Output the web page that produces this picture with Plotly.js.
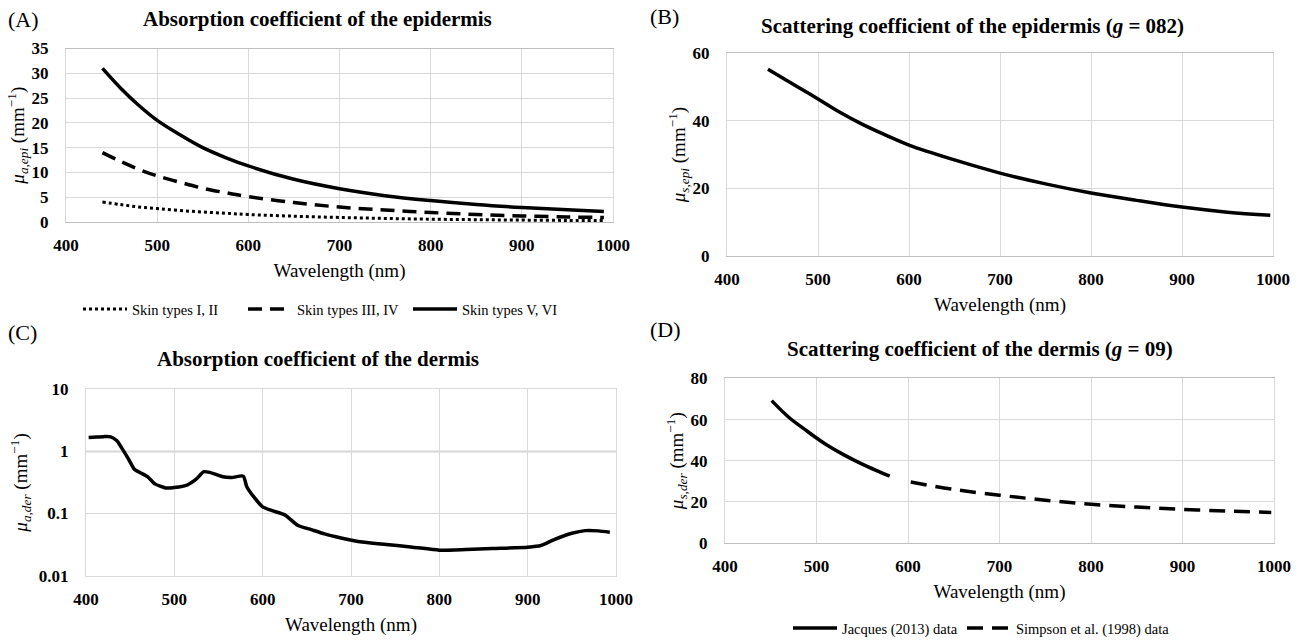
<!DOCTYPE html>
<html>
<head>
<meta charset="utf-8">
<script src="https://cdn.plot.ly/plotly-3.0.1.min.js"></script>
<style>html,body{margin:0;padding:0;background:#fff;}#chart{width:1304px;height:644px;}</style>
</head>
<body>
<div id="chart"></div>
<script>
// ---- Panel A: absorption coefficient of the epidermis ----
const wlA = [440, 460, 480, 500, 525, 550, 575, 600, 650, 700, 750, 800, 850, 900, 950, 990];
const skinI_II = [4.0, 3.5, 3.0, 2.7, 2.3, 2.0, 1.75, 1.5, 1.15, 0.9, 0.7, 0.55, 0.45, 0.37, 0.3, 0.27];
const skinIII_IV = [14.0, 12.2, 10.6, 9.3, 8.0, 6.8, 5.9, 5.1, 3.9, 3.0, 2.4, 1.9, 1.5, 1.2, 1.0, 0.9];
const skinV_VI = [31.0, 27.0, 23.5, 20.5, 17.6, 15.0, 13.0, 11.3, 8.6, 6.7, 5.3, 4.3, 3.5, 2.9, 2.45, 2.1];

// ---- Panel B: scattering coefficient of the epidermis ----
const wlB = [445, 475, 500, 525, 550, 575, 600, 650, 700, 750, 800, 850, 900, 950, 997];
const musEpi = [55.3, 50.5, 46.5, 42.4, 38.8, 35.7, 32.8, 28.4, 24.5, 21.3, 18.6, 16.4, 14.4, 12.9, 12.0];

// ---- Panel C: absorption coefficient of the dermis (log scale) ----
const wlC = [403, 412, 420, 428, 435, 440, 448, 455, 462, 470, 478, 490, 500, 515, 525, 533, 540, 555, 565, 578, 582, 590, 600, 610, 625, 640, 655, 670, 690, 710, 740, 770, 800, 830, 860, 900, 915, 930, 950, 965, 980, 993];
const muaDer = [1.67, 1.70, 1.73, 1.72, 1.48, 1.16, 0.76, 0.51, 0.45, 0.39, 0.30, 0.258, 0.262, 0.29, 0.36, 0.47, 0.46, 0.39, 0.38, 0.40, 0.27, 0.185, 0.128, 0.112, 0.095, 0.064, 0.055, 0.047, 0.040, 0.035, 0.0316, 0.0287, 0.0257, 0.0263, 0.0273, 0.0287, 0.0305, 0.038, 0.048, 0.053, 0.0525, 0.050];

// ---- Panel D: scattering coefficient of the dermis ----
const wlJacques = [451, 470, 490, 500, 510, 530, 550, 565, 580];
const musJacques = [69.2, 61.0, 54.3, 51.0, 48.0, 42.8, 38.3, 35.3, 32.5];
const wlSimpson = [603, 650, 700, 750, 800, 850, 900, 950, 997];
const musSimpson = [29.6, 26.0, 23.2, 20.8, 18.8, 17.4, 16.3, 15.5, 14.8];

const legendA = ["Skin types I, II", "Skin types III, IV", "Skin types V, VI"];
const legendD = ["Jacques (2013) data", "Simpson et al. (1998) data"];
const panelTitles = [
  "Absorption coefficient of the epidermis",
  "Scattering coefficient of the epidermis (<i>g</i> = 082)",
  "Absorption coefficient of the dermis",
  "Scattering coefficient of the dermis (<i>g</i> = 09)"
];
const panelLabels = ["(A)", "(B)", "(C)", "(D)"];
const xTitle = "Wavelength (nm)";
const yTitles = [
  "<i>μ<sub>a,epi</sub></i> (mm<sup>−1</sup>)",
  "<i>μ<sub>s,epi</sub></i> (mm<sup>−1</sup>)",
  "<i>μ<sub>a,der</sub></i> (mm<sup>−1</sup>)",
  "<i>μ<sub>s,der</sub></i> (mm<sup>−1</sup>)"
];
const logTickVals = [0.01, 0.1, 1, 10];
const logTickText = ["0.01", "0.1", "1", "10"];

const W = 1304, H = 644;
const SERIF = "'Liberation Serif', 'Times New Roman', Times, serif";
const BLACK = "#000000";
const GRID = "#d9d9d9";
const LW = 3.5;

function dx(a, b) { return [a / W, b / W]; }
function dy(top, bottom) { return [1 - bottom / H, 1 - top / H]; }

const traces = [
  {x: wlA, y: skinI_II, name: legendA[0], type: "scatter", mode: "lines", xaxis: "x", yaxis: "y", legend: "legend",
   line: {color: BLACK, width: 3, dash: "3px,3px", shape: "spline"}},
  {x: wlA, y: skinIII_IV, name: legendA[1], type: "scatter", mode: "lines", xaxis: "x", yaxis: "y", legend: "legend",
   line: {color: BLACK, width: LW, dash: "14px,8px", shape: "spline"}},
  {x: wlA, y: skinV_VI, name: legendA[2], type: "scatter", mode: "lines", xaxis: "x", yaxis: "y", legend: "legend",
   line: {color: BLACK, width: LW, shape: "spline"}},
  {x: wlB, y: musEpi, name: "μs,epi", type: "scatter", mode: "lines", xaxis: "x2", yaxis: "y2", showlegend: false,
   line: {color: BLACK, width: LW, shape: "spline"}},
  {x: wlC, y: muaDer, name: "μa,der", type: "scatter", mode: "lines", xaxis: "x3", yaxis: "y3", showlegend: false,
   line: {color: BLACK, width: LW, shape: "spline", smoothing: 0.6}},
  {x: wlJacques, y: musJacques, name: legendD[0], type: "scatter", mode: "lines", xaxis: "x4", yaxis: "y4", legend: "legend2",
   line: {color: BLACK, width: LW, shape: "spline"}},
  {x: wlSimpson, y: musSimpson, name: legendD[1], type: "scatter", mode: "lines", xaxis: "x4", yaxis: "y4", legend: "legend3",
   line: {color: BLACK, width: LW, dash: "16px,9px", shape: "spline"}}
];

const tickFont = {family: SERIF, size: 17, color: BLACK, weight: "bold"};
const titleFont = {family: SERIF, size: 19, color: BLACK};

function xAxis(domain, anchor, lineColor) {
  return {
    domain: domain, anchor: anchor, range: [400, 1000], dtick: 100, tick0: 400,
    showgrid: true, gridcolor: GRID, gridwidth: 1,
    showline: true, linecolor: lineColor || GRID, linewidth: 1, mirror: true,
    ticks: "", tickfont: tickFont, ticklabelstandoff: 8, zeroline: false,
    title: {text: xTitle, font: titleFont, standoff: 9},
    automargin: false, fixedrange: true
  };
}
function yAxis(domain, anchor, range, dtick, extra) {
  const a = {
    domain: domain, anchor: anchor, range: range, dtick: dtick,
    showgrid: true, gridcolor: GRID, gridwidth: 1,
    showline: true, linecolor: GRID, linewidth: 1, mirror: true,
    ticks: "", tickfont: tickFont, ticklabelstandoff: 13, zeroline: false,
    automargin: false, fixedrange: true
  };
  return Object.assign(a, extra || {});
}

const legendFont = {family: SERIF, size: 14.5, color: BLACK};
function legendBox(xpx, ypx) {
  return {orientation: "h", x: xpx / W, y: 1 - ypx / H, xanchor: "left", yanchor: "middle",
    font: legendFont, bgcolor: "rgba(0,0,0,0)", itemwidth: 44, itemclick: false, itemdoubleclick: false};
}

const titleAnnFont = {family: SERIF, size: 21, color: BLACK, weight: "bold"};
const labelFont = {family: SERIF, size: 22, color: BLACK};

const layout = {
  width: W, height: H,
  margin: {l: 0, r: 0, t: 0, b: 0},
  paper_bgcolor: "#ffffff", plot_bgcolor: "#ffffff",
  font: {family: SERIF, color: BLACK},
  xaxis: xAxis(dx(66, 613), "y", "#bfbfbf"),
  yaxis: yAxis(dy(49, 224), "x", [0, 35], 5, {title: {text: yTitles[0], font: titleFont, standoff: 1}}),
  xaxis2: xAxis(dx(727, 1273), "y2", "#bfbfbf"),
  yaxis2: yAxis(dy(54, 258), "x2", [0, 60], 20, {title: {text: yTitles[1], font: titleFont, standoff: 1}}),
  xaxis3: xAxis(dx(86, 616), "y3"),
  yaxis3: yAxis(dy(393, 581), "x3", [-2, 1], null, {type: "log", tickvals: logTickVals, ticktext: logTickText,
    title: {text: yTitles[2], font: titleFont, standoff: 6}}),
  xaxis4: xAxis(dx(725, 1274), "y4", "#bfbfbf"),
  yaxis4: yAxis(dy(382, 548), "x4", [0, 80], 20, {title: {text: yTitles[3], font: titleFont, standoff: 1}}),
  showlegend: true,
  legend: Object.assign(legendBox(78, 312), {entrywidth: 106, entrywidthmode: "pixels"}),
  legend2: legendBox(788, 634),
  legend3: legendBox(962, 634),
  shapes: [
    {type: "line", xref: "x3 domain", yref: "y3", x0: 0, x1: 1, y0: 1, y1: 1,
     line: {color: "#a6a6a6", width: 1.5}, layer: "below"}
  ],
  annotations: [
    {text: panelTitles[0], xref: "paper", yref: "paper", x: 317 / W, y: 1 - 19 / H, showarrow: false,
     font: titleAnnFont, xanchor: "center", yanchor: "middle"},
    {text: panelTitles[1], xref: "paper", yref: "paper", x: 972 / W, y: 1 - 26 / H, showarrow: false,
     font: titleAnnFont, xanchor: "center", yanchor: "middle"},
    {text: panelTitles[2], xref: "paper", yref: "paper", x: 318 / W, y: 1 - 362 / H, showarrow: false,
     font: titleAnnFont, xanchor: "center", yanchor: "middle"},
    {text: panelTitles[3], xref: "paper", yref: "paper", x: 980 / W, y: 1 - 352 / H, showarrow: false,
     font: titleAnnFont, xanchor: "center", yanchor: "middle"},
    {text: panelLabels[0], xref: "paper", yref: "paper", x: 6 / W, y: 1 - 20 / H, showarrow: false,
     font: labelFont, xanchor: "left", yanchor: "middle"},
    {text: panelLabels[1], xref: "paper", yref: "paper", x: 648 / W, y: 1 - 17 / H, showarrow: false,
     font: labelFont, xanchor: "left", yanchor: "middle"},
    {text: panelLabels[2], xref: "paper", yref: "paper", x: 6 / W, y: 1 - 336 / H, showarrow: false,
     font: labelFont, xanchor: "left", yanchor: "middle"},
    {text: panelLabels[3], xref: "paper", yref: "paper", x: 648 / W, y: 1 - 333 / H, showarrow: false,
     font: labelFont, xanchor: "left", yanchor: "middle"}
  ]
};

Plotly.newPlot("chart", traces, layout, {displayModeBar: false, staticPlot: true});
</script>
</body>
</html>
